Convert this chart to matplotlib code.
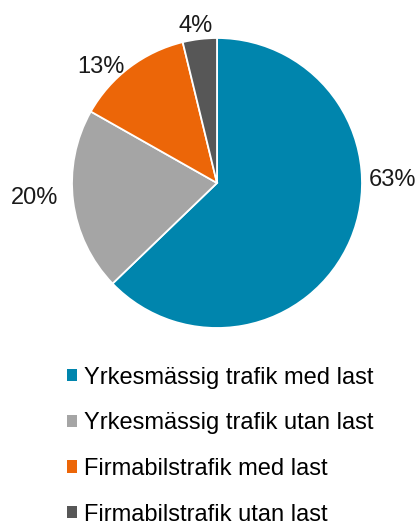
import matplotlib.pyplot as plt
from matplotlib.patches import Patch

categories = ["Yrkesmässig trafik med last", "Yrkesmässig trafik utan last",
              "Firmabilstrafik med last", "Firmabilstrafik utan last"]
shares = [62.8, 20.4, 13.0, 3.8]
pct_labels = ["63%", "20%", "13%", "4%"]
colors = ["#0085AD", "#A5A5A5", "#EC6608", "#575757"]

# label positions (pie radius = 1)
label_pos = [(1.21, 0.02), (-1.255, -0.10), (-0.80, 0.80), (-0.15, 1.085)]

plt.rcParams['font.family'] = ['Liberation Sans', 'DejaVu Sans']

fig = plt.figure(figsize=(4.19, 5.24), dpi=100)
W, H = 419, 524
cx, cy, r = 217, 183, 145
ax = fig.add_axes([(cx - r) / W, 1 - (cy + r) / H, 2 * r / W, 2 * r / H])
ax.pie(shares, colors=colors, startangle=90, counterclock=False,
       wedgeprops=dict(edgecolor='white', linewidth=1.3))
ax.set_xlim(-1, 1)
ax.set_ylim(-1, 1)
ax.set_aspect('equal')
ax.axis('off')

for (x, y), t in zip(label_pos, pct_labels):
    ax.text(x, y, t, ha='center', va='center', fontsize=17, color='#1a1a1a',
            clip_on=False)

handles = [Patch(facecolor=c, edgecolor='none') for c in colors]
fig.legend(handles, categories, loc='upper left',
           bbox_to_anchor=(55 / W, 1 - 355 / H), frameon=False,
           fontsize=17, handlelength=0.42, handleheight=0.42,
           handletextpad=0.3, labelspacing=1.0, borderpad=0)

fig.savefig("out.png", dpi=100)
